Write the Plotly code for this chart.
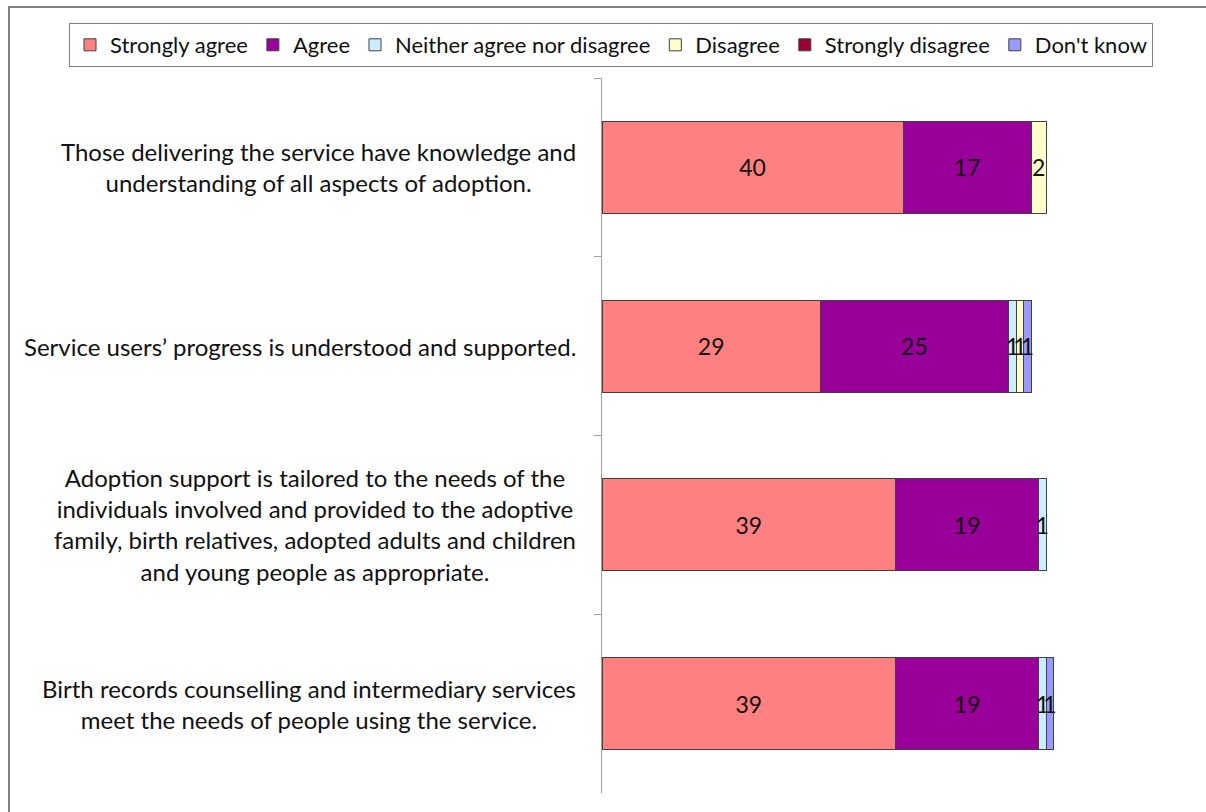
import plotly.graph_objects as go

statements = [
    "Those delivering the service have knowledge and<br>understanding of all aspects of adoption.",
    "Service users\u2019 progress is understood and supported.",
    "Adoption support is tailored to the needs of the<br>individuals involved and provided to the adoptive<br>family, birth relatives, adopted adults and children<br>and young people as appropriate.",
    "Birth records counselling and intermediary services<br>meet the needs of people using the service.",
]
strongly_agree = [40, 29, 39, 39]
agree = [17, 25, 19, 19]
neither = [0, 1, 1, 1]
disagree = [2, 1, 0, 0]
strongly_disagree = [0, 0, 0, 0]
dont_know = [0, 1, 0, 1]

series = [
    ("Strongly agree", strongly_agree, "#FF8080"),
    ("Agree", agree, "#990099"),
    ("Neither agree nor disagree", neither, "#CCECFF"),
    ("Disagree", disagree, "#FFFFCC"),
    ("Strongly disagree", strongly_disagree, "#990033"),
    ("Don't know", dont_know, "#9999FF"),
]

W, H = 1206, 812
L, R, T, B = 602, 1129, 78, 793  # plot area in pixels
FS = 24
INK = "#111111"


def px_x(p):
    return (p - L) / (R - L)


def px_y(p):
    return (B - p) / (B - T)


fig = go.Figure()
for name, vals, col in series:
    fig.add_trace(go.Bar(
        y=statements, x=vals, name=name, orientation="h",
        marker=dict(color=col, line=dict(color="#404040", width=1)),
        text=[str(v) if v else "" for v in vals],
        textposition="inside", insidetextanchor="middle",
        constraintext="none", textangle=0,
        textfont=dict(family="Lato", size=23, color=INK),
        hoverinfo="x+name",
    ))

# category labels, centred block right-aligned against the axis
for s in statements:
    fig.add_annotation(
        x=px_x(578), xref="paper", y=s, yref="y",
        text=s, showarrow=False, xanchor="right", yanchor="middle",
        align="center",
        font=dict(family="Lato", size=FS, color=INK),
    )

fig.update_layout(
    width=W, height=H,
    barmode="stack", bargap=0.486,
    margin=dict(l=L, r=W - R, t=T, b=H - B, autoexpand=False),
    paper_bgcolor="white", plot_bgcolor="white",
    font=dict(family="Lato", size=FS, color=INK),
    showlegend=True,
    legend=dict(
        orientation="h", x=px_x(69), xanchor="left",
        y=px_y(23), yanchor="top",
        bordercolor="#808080", borderwidth=1, bgcolor="white",
        font=dict(family="Lato", size=22, color=INK),
        itemwidth=30, tracegroupgap=0, traceorder="normal",
    ),
    xaxis=dict(range=[0, 70], visible=False),
    yaxis=dict(
        autorange="reversed", showticklabels=False, tickson="boundaries",
        ticks="outside", ticklen=7, tickcolor="#A0A0A0",
        showline=True, linecolor="#A0A0A0", linewidth=1, showgrid=False,
    ),
    shapes=[dict(
        type="rect", xref="paper", yref="paper",
        x0=px_x(9), y0=px_y(7), x1=px_x(1300), y1=px_y(900),
        line=dict(color="#808080", width=2), fillcolor="rgba(0,0,0,0)",
        layer="below",
    )],
)

fig.write_html("out.html", config={"displayModeBar": False},
               post_script="document.body.style.margin='0';")
